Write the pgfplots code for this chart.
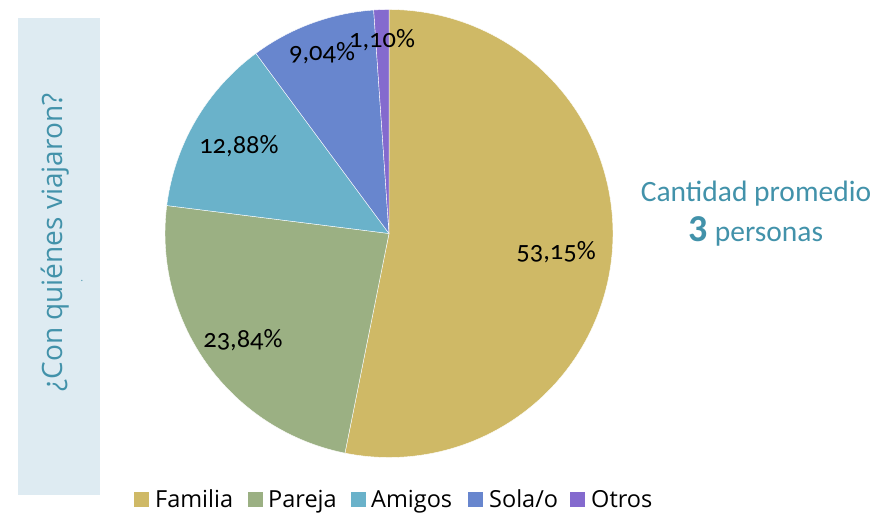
\documentclass[border=0pt]{standalone}
\usepackage{fontspec}
\usepackage{pgfplots}
\pgfplotsset{compat=1.18}
\setmainfont{Open Sans}
\newfontfamily\labfont[Numbers=OldStyle]{Carlito}
\newfontfamily\calfont{Carlito}
\definecolor{famcol}{HTML}{CFB966}
\definecolor{parcol}{HTML}{9BB083}
\definecolor{amicol}{HTML}{6AB2CA}
\definecolor{solcol}{HTML}{6886CE}
\definecolor{otrcol}{HTML}{846ACE}
\definecolor{boxcol}{HTML}{DEEBF2}
\definecolor{tealtxt}{HTML}{4292AA}
% shares (%)
\def\vFam{53.15}\def\vPar{23.84}\def\vAmi{12.88}\def\vSol{9.04}\def\vOtr{1.10}
\begin{document}
\begin{tikzpicture}[x=1pt,y=1pt]
\path[use as bounding box] (0,0) rectangle (876,512);
% left box
\fill[boxcol] (18,17) rectangle (100,494);
\node[rotate=90, anchor=base, text=tealtxt, font=\fontsize{28}{32}\selectfont, inner sep=0] at (62,269.5) {¿Con quiénes viajaron?};
\node[text=tealtxt, font=\fontsize{10}{12}\selectfont, inner sep=0] at (82,231) {.};
% pie
\pgfmathsetmacro\aA{90}
\pgfmathsetmacro\aB{\aA-3.6*\vFam}
\pgfmathsetmacro\aC{\aB-3.6*\vPar}
\pgfmathsetmacro\aD{\aC-3.6*\vAmi}
\pgfmathsetmacro\aE{\aD-3.6*\vSol}
\pgfmathsetmacro\aF{\aE-3.6*\vOtr}
\begin{axis}[at={(389pt,278.5pt)}, anchor=center, scale only axis, width=448pt, height=448pt,
  xmin=-1, xmax=1, ymin=-1, ymax=1, hide axis, clip=false]
\addplot[fill=famcol, draw=white, line width=0.4pt, domain=\aB:\aA, samples=120, variable=\t] ({cos(\t)},{sin(\t)}) -- (axis cs:0,0) -- cycle;
\addplot[fill=parcol, draw=white, line width=0.4pt, domain=\aC:\aB, samples=60, variable=\t] ({cos(\t)},{sin(\t)}) -- (axis cs:0,0) -- cycle;
\addplot[fill=amicol, draw=white, line width=0.4pt, domain=\aD:\aC, samples=40, variable=\t] ({cos(\t)},{sin(\t)}) -- (axis cs:0,0) -- cycle;
\addplot[fill=solcol, draw=white, line width=0.4pt, domain=\aE:\aD, samples=30, variable=\t] ({cos(\t)},{sin(\t)}) -- (axis cs:0,0) -- cycle;
\addplot[fill=otrcol, draw=white, line width=0.4pt, domain=\aF:\aE, samples=5, variable=\t] ({cos(\t)},{sin(\t)}) -- (axis cs:0,0) -- cycle;
\begin{scope}[every node/.style={font=\labfont\fontsize{26.5}{30}\selectfont, inner sep=0}]
\node at (axis cs:0.746,-0.083) {53,15\%};
\node at (axis cs:-0.652,-0.475) {23,84\%};
\node at (axis cs:-0.670,0.391) {12,88\%};
\node at (axis cs:-0.299,0.806) {9,04\%};
\node at (axis cs:-0.031,0.864) {1,10\%};
\end{scope}
\end{axis}
% right text
\node[anchor=base, text=tealtxt, font=\calfont\fontsize{29.5}{34}\selectfont, inner sep=0] at (756,310) {Cantidad promedio};
\node[anchor=base, text=tealtxt, font=\calfont\fontsize{29.5}{34}\selectfont, inner sep=0] at (756,270) {{\bfseries\fontsize{38}{40}\selectfont 3} personas};
% legend
\begin{scope}[every node/.style={anchor=base west, font=\fontsize{23.5}{27}\selectfont, inner sep=0}]
\fill[famcol] (134,5) rectangle (149,20); \node at (155,5) {Familia};
\fill[parcol] (248,5) rectangle (263,20); \node at (268,5) {Pareja};
\fill[amicol] (351,5) rectangle (366,20); \node at (371,5) {Amigos};
\fill[solcol] (468,5) rectangle (483,20); \node at (489,5) {Sola/o};
\fill[otrcol] (570,5) rectangle (585,20); \node at (591,5) {Otros};
\end{scope}
\end{tikzpicture}
\end{document}
